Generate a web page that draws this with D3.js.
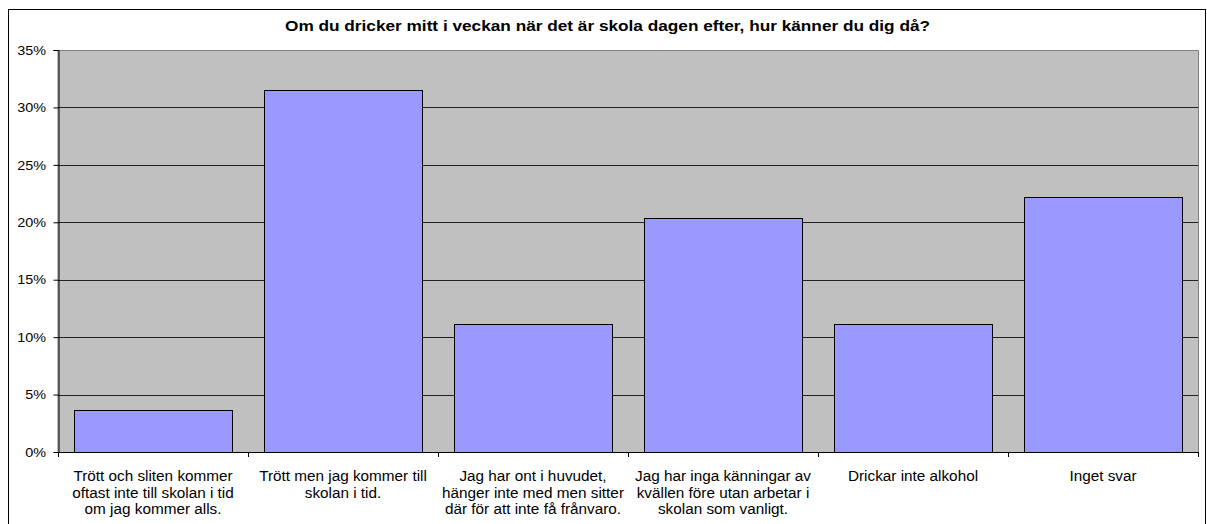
<!DOCTYPE html>
<html><head><meta charset="utf-8">
<script src="https://cdn.jsdelivr.net/npm/d3@7"></script>
<style>body{margin:0;background:#fff}svg{display:block;font-family:"Liberation Sans",Arial,sans-serif}</style>
</head><body><svg id="c" width="1207" height="524"></svg>
<script>
const title = "Om du dricker mitt i veckan när det är skola dagen efter, hur känner du dig då?";
const categories = [
  ["Trött och sliten kommer","oftast inte till skolan i tid","om jag kommer alls."],
  ["Trött men jag kommer till","skolan i tid."],
  ["Jag har ont i huvudet,","hänger inte med men sitter","där för att inte få frånvaro."],
  ["Jag har inga känningar av","kvällen före utan arbetar i","skolan som vanligt."],
  ["Drickar inte alkohol"],
  ["Inget svar"]
];
const values = [0.037, 0.3148, 0.1111, 0.2037, 0.1111, 0.2222];
const yTicks = [0,0.05,0.10,0.15,0.20,0.25,0.30,0.35];

const svg = d3.select("#c");
const L=58, R=1198, T=50, B=452;
svg.append("rect").attr("x",8.5).attr("y",9.5).attr("width",1197).attr("height",530).attr("fill","#fff").attr("stroke","#000");
svg.append("text").attr("x",607.5).attr("y",31).attr("text-anchor","middle").attr("font-weight","bold").attr("font-size",15.5)
  .attr("textLength",645).attr("lengthAdjust","spacingAndGlyphs").text(title);

const x = d3.scaleBand().domain(d3.range(categories.length)).range([L,R]).paddingInner(0.2/1.2).paddingOuter(0.1/1.2);
const y = d3.scaleLinear().domain([0,0.35]).range([B,T]);

svg.append("rect").attr("x",L).attr("y",T+0.5).attr("width",R-L+0.5).attr("height",B-T).attr("fill","#C0C0C0").attr("stroke","#808080");
svg.append("g").selectAll("line").data(yTicks.slice(1,-1)).join("line")
  .attr("x1",L).attr("x2",R).attr("y1",d=>Math.round(y(d))+0.5).attr("y2",d=>Math.round(y(d))+0.5).attr("stroke","#222");

svg.append("g").selectAll("rect").data(values).join("rect")
  .attr("x",(d,i)=>Math.round(x(i))+0.5).attr("width",Math.round(x.bandwidth()))
  .attr("y",d=>Math.round(y(d))+0.5).attr("height",d=>B-Math.round(y(d)))
  .attr("fill","#9999FF").attr("stroke","#000");

const ya = svg.append("g").attr("transform",`translate(${L+0.5},0)`)
  .call(d3.axisLeft(y).tickValues(yTicks).tickFormat(d3.format(".0%")).tickSize(5).tickPadding(6));
ya.selectAll("text").attr("font-size",12).attr("fill","#000").attr("font-family","Liberation Sans, Arial, sans-serif")
  .attr("x",0).attr("dy","0.35em").attr("transform","translate(-12.5,0) scale(1.2,1)");
ya.selectAll("line, path").attr("stroke","#000");

const xb = d3.scaleLinear().domain([0,categories.length]).range([L,R]);
const xg = svg.append("g");
xg.append("line").attr("x1",L).attr("x2",R).attr("y1",B+0.5).attr("y2",B+0.5).attr("stroke","#000");
xg.selectAll("line.t").data(d3.range(categories.length+1)).join("line").attr("class","t")
  .attr("x1",d=>Math.round(xb(d))+0.5).attr("x2",d=>Math.round(xb(d))+0.5).attr("y1",B).attr("y2",B+5).attr("stroke","#000");
const lbl = xg.selectAll("text").data(categories).join("text")
  .attr("text-anchor","middle").attr("font-size",15.3).attr("transform",(d,i)=>`translate(${x(i)+x.bandwidth()/2},${B+29})`);
lbl.selectAll("tspan").data(d=>d).join("tspan").attr("x",0).attr("dy",(d,i)=>i?16.6:0).text(d=>d);
</script></body></html>
